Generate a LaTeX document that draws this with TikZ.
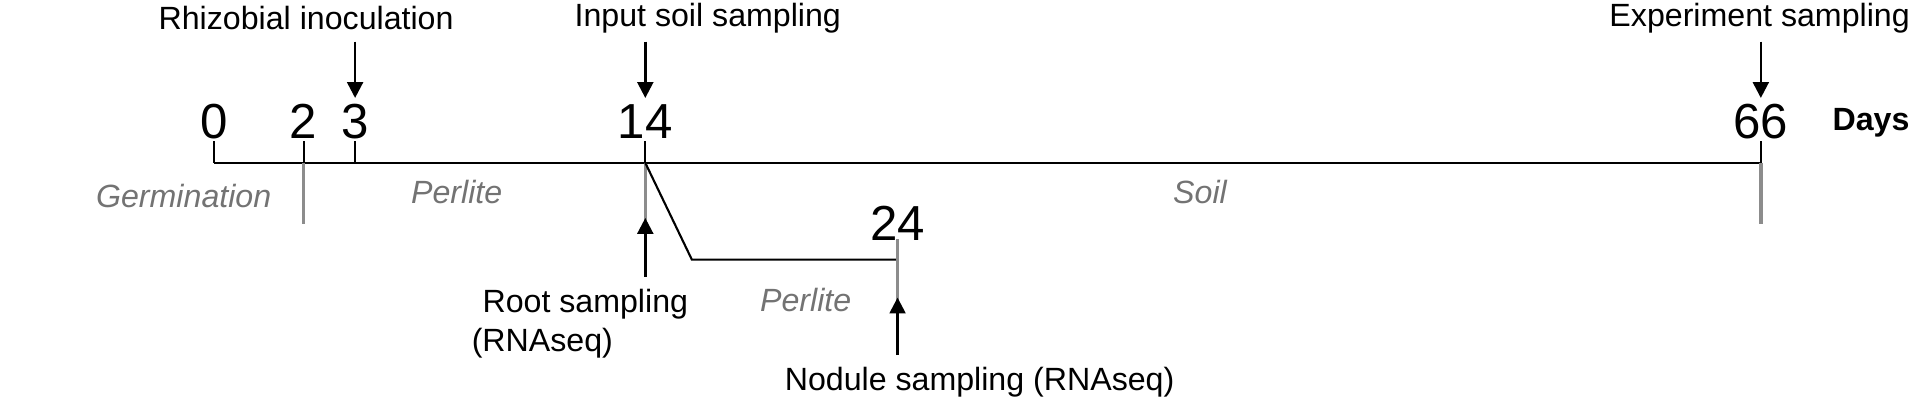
\documentclass[tikz,border=0pt]{standalone}
\usepackage{fontspec}
\setmainfont{Liberation Sans}
\usetikzlibrary{positioning,arrows.meta}
\tikzstyle{daynum} = [font=\fontsize{28}{32}\selectfont, inner sep=0pt]
\tikzstyle{lbl} = [font=\fontsize{18.3}{22}\selectfont, inner sep=0pt]
\tikzstyle{phase} = [lbl, font=\fontsize{18.3}{22}\selectfont\itshape, text=gray!90!black]
\tikzstyle{grey tick} = [draw=gray!90, line width=2pt]
\tikzstyle{blk} = [draw=black, line width=1.2pt]
\tikzstyle{evarrow} = [-{Triangle[length=9pt,width=9pt]}, line width=1.4pt]
\begin{document}
\begin{tikzpicture}[x=0.024490cm, y=-0.024490cm]
\useasboundingbox (0,0) rectangle (1568,332);
% timeline
\coordinate (d0) at (175,133);
\coordinate (d2) at (248,133);
\coordinate (d3) at (290,133);
\coordinate (d14) at (527,133);
\coordinate (d66) at (1438,133);
\coordinate (bend) at (565,212);
\coordinate (d24) at (733,212);
\draw[blk] (d0) -- (d66);
\draw[blk] (d0) -- ++(0,-18);
\draw[blk] (d2) -- ++(0,-18);
\draw[blk] (d3) -- ++(0,-18);
\draw[blk] (d14) -- ++(0,-18);
\draw[blk] (d66) -- ++(0,-18);
\draw[grey tick] (d2) -- ++(0,50);
\draw[grey tick] (d14) -- ++(0,50);
\draw[grey tick] (d66) -- ++(0,50);
\draw[blk] (d14) -- (bend) -- (d24);
\draw[grey tick] (d24) ++(0,-17) -- ++(0,50);
% day numbers
\node[daynum] (n0) at (175,99) {0};
\node[daynum] (n2) at (248,99) {2};
\node[daynum] (n3) at (290,99) {3};
\node[daynum] (n14) at (527,99) {14};
\node[daynum] (n66) at (1438,99) {66};
\node[daynum] (n24) at (733,182) {24};
\node[lbl, font=\fontsize{18.3}{22}\selectfont\bfseries] (days) at (1528,100) {Days};
% phases
\node[phase] (germ) at (150,160) {Germination};
\node[phase] (perl1) at (373,157) {Perlite};
\node[phase] (soil) at (980,157) {Soil};
\node[phase] (perl2) at (658,245) {Perlite};
% events
\node[lbl] (rhiz) at (250,15) {Rhizobial inoculation};
\node[lbl] (input) at (578,15) {Input soil sampling};
\node[lbl] (expt) at (1437,15) {Experiment sampling};
\node[lbl] (root) at (478,248) {Root sampling};
\node[lbl, anchor=west] (rna) at (385,280) {(RNAseq)};
\node[lbl] (nod) at (800,312) {Nodule sampling (RNAseq)};
\coordinate (a3a) at (290,34);
\coordinate (a3b) at (290,80);
\coordinate (a14a) at (527,34);
\coordinate (a14b) at (527,80);
\coordinate (a66a) at (1438,34);
\coordinate (a66b) at (1438,80);
\draw[evarrow] (a3a) -- (a3b);
\draw[evarrow] (a14a) -- (a14b);
\draw[evarrow] (a66a) -- (a66b);
\coordinate (r1) at (527,226);
\coordinate (r2) at (527,178);
\coordinate (s1) at (733,290);
\coordinate (s2) at (733,243);
\draw[evarrow] (r1) -- (r2);
\draw[evarrow] (s1) -- (s2);
\end{tikzpicture}
\end{document}
